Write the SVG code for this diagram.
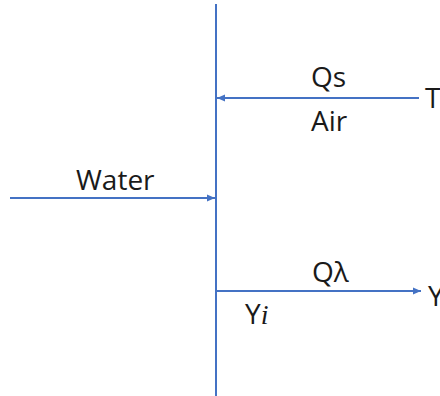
<svg xmlns="http://www.w3.org/2000/svg" width="440" height="396" viewBox="0 0 440 396">
<style>
.ln{stroke:#4472C4;stroke-width:2;fill:none}
.t{font-family:"Open Sans","Liberation Sans",sans-serif;font-size:28px;fill:#1a1a1a}
.it{font-family:"Liberation Serif","DejaVu Serif",serif;font-style:italic}
</style>
<defs>
<marker id="ah" markerUnits="userSpaceOnUse" markerWidth="9" markerHeight="8" refX="8" refY="4" orient="auto">
<path d="M0,0.5 L8,4 L0,7.5 z" fill="#4472C4"/>
</marker>
</defs>
<rect width="440" height="396" fill="#ffffff"/>
<g id="connectors">
<line class="ln" x1="216" y1="4" x2="216" y2="396"/>
<line class="ln" x1="419" y1="98" x2="217" y2="98" marker-end="url(#ah)"/>
<line class="ln" x1="10" y1="198" x2="215" y2="198" marker-end="url(#ah)"/>
<line class="ln" x1="216" y1="291" x2="421" y2="291" marker-end="url(#ah)"/>
</g>
<g id="labels">
<text class="t" x="311" y="87">Qs</text>
<text class="t" x="311" y="131">Air</text>
<text class="t" x="425" y="108">T</text>
<text class="t" x="76" y="190">Water</text>
<text class="t" x="312" y="282">Qλ</text>
<text class="t" x="428" y="306">Y</text>
<text class="t" x="245" y="324">Y<tspan class="it">i</tspan></text>
</g>
</svg>
